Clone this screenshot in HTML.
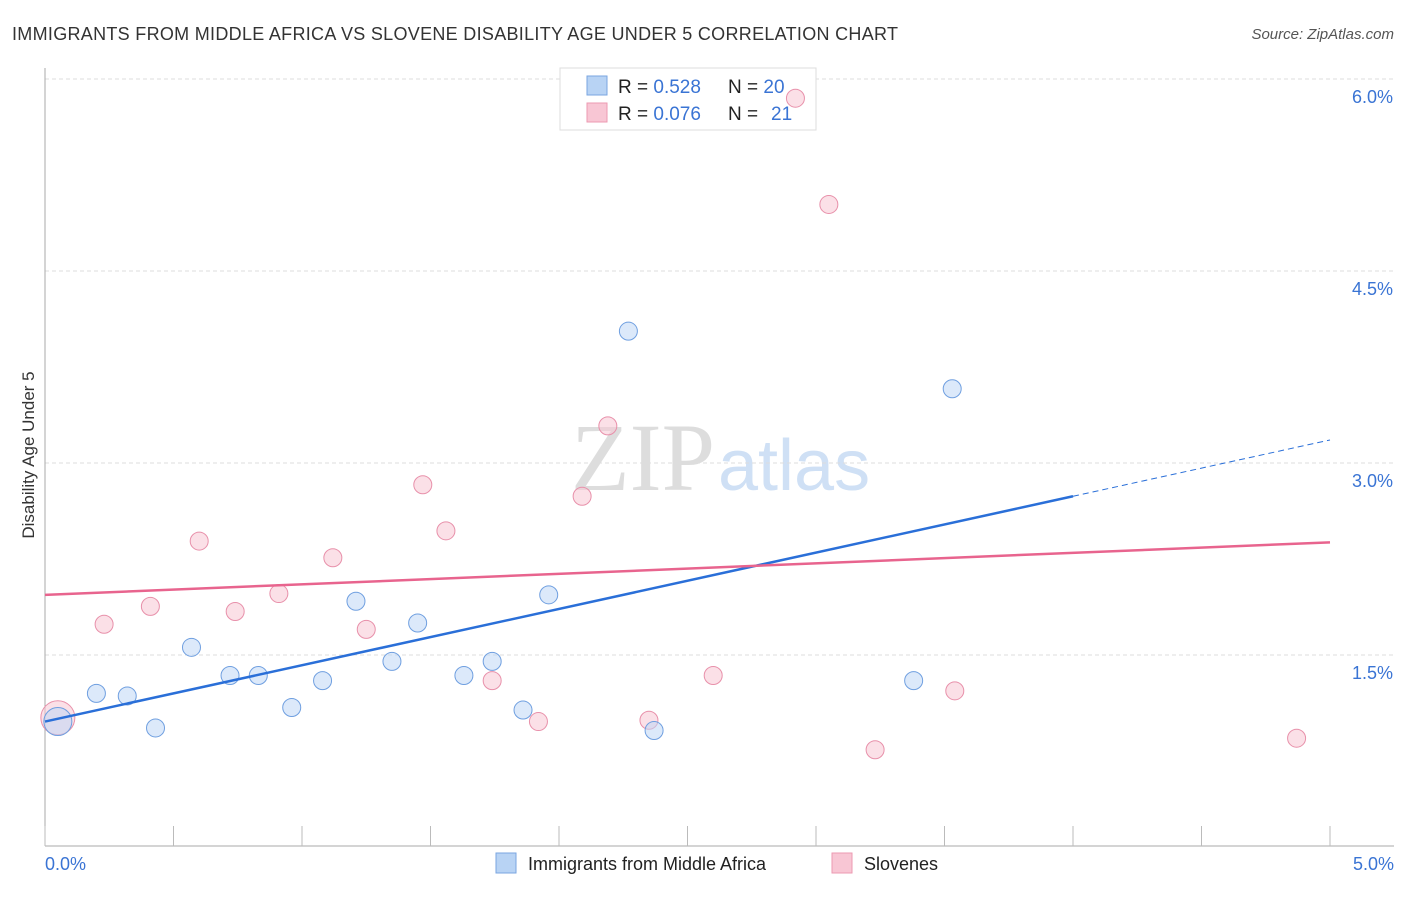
<!DOCTYPE html>
<html><head><meta charset="utf-8"><style>
body{margin:0;background:#fff;font-family:"Liberation Sans",sans-serif}
</style></head><body>
<svg width="1406" height="892" xmlns="http://www.w3.org/2000/svg">
<text x="12" y="40" font-size="18" fill="#333" textLength="886">IMMIGRANTS FROM MIDDLE AFRICA VS SLOVENE DISABILITY AGE UNDER 5 CORRELATION CHART</text>
<text x="1394" y="39" font-size="15" fill="#555" text-anchor="end" font-style="italic">Source: ZipAtlas.com</text>
<text x="715" y="490" font-size="96" fill="#ddd" text-anchor="end" font-family="Liberation Serif,serif">ZIP</text>
<text x="718" y="490" font-size="72" fill="#cfe0f5">atlas</text>
<g id="grid"></g>
<g id="axes"></g>
<g>
<rect x="560" y="68" width="256" height="62" fill="#fff" stroke="#ddd"/>
<rect x="587" y="76" width="20" height="19" fill="#b8d3f4" stroke="#7aa6e0"/>
<rect x="587" y="103" width="20" height="19" fill="#f8c6d4" stroke="#ec9ab2"/>
<text x="618" y="93" font-size="19" fill="#222">R = <tspan fill="#3a74d4">0.528</tspan><tspan x="728">N = </tspan><tspan fill="#3a74d4">20</tspan></text>
<text x="618" y="120" font-size="19" fill="#222">R = <tspan fill="#3a74d4">0.076</tspan><tspan x="728">N = </tspan><tspan x="771" fill="#3a74d4">21</tspan></text>
</g>
<g id="marks"></g>
<text transform="translate(34,455) rotate(-90)" font-size="17" fill="#333" text-anchor="middle">Disability Age Under 5</text>
<text x="45" y="870" font-size="18" fill="#3a74d4">0.0%</text>
<text x="1394" y="870" font-size="18" fill="#3a74d4" text-anchor="end">5.0%</text>
<g>
<rect x="496" y="853" width="20" height="20" fill="#b8d3f4" stroke="#7aa6e0"/>
<text x="528" y="870" font-size="18" fill="#222">Immigrants from Middle Africa</text>
<rect x="832" y="853" width="20" height="20" fill="#f8c6d4" stroke="#ec9ab2"/>
<text x="864" y="870" font-size="18" fill="#222">Slovenes</text>
</g>
</svg>
<script>
const yTicks=[1.5,3.0,4.5,6.0];
const yTickLabels=["1.5%","3.0%","4.5%","6.0%"];
const xTicks=[0,0.5,1,1.5,2,2.5,3,3.5,4,4.5,5];
const blueX=[0.05,0.20,0.32,0.43,0.57,0.72,0.83,0.96,1.08,1.21,1.35,1.45,1.63,1.74,1.86,1.96,2.27,2.37,3.38,3.53];
const blueY=[0.98,1.20,1.18,0.93,1.56,1.34,1.34,1.09,1.30,1.92,1.45,1.75,1.34,1.45,1.07,1.97,4.03,0.91,1.30,3.58];
const pinkX=[0.05,0.23,0.41,0.60,0.74,0.91,1.12,1.25,1.47,1.56,1.74,1.92,2.09,2.19,2.35,2.60,2.92,3.05,3.23,3.54,4.87];
const pinkY=[1.01,1.74,1.88,2.39,1.84,1.98,2.26,1.70,2.83,2.47,1.30,0.98,2.74,3.29,0.99,1.34,5.85,5.02,0.76,1.22,0.85];
const blueTrend=[[0,0.98],[4.0,2.74],[5.0,3.18]];
const pinkTrend=[[0,1.97],[5.0,2.38]];
const NS="http://www.w3.org/2000/svg";
const X=v=>45+v*257, Y=v=>847-v*128;
function mk(t,a,p){const e=document.createElementNS(NS,t);for(const k in a)e.setAttribute(k,a[k]);document.getElementById(p).appendChild(e);return e;}
yTicks.forEach((v,i)=>{
 const l=mk('line',{x1:45,x2:1394,y1:Y(v),y2:Y(v),stroke:'#ddd','stroke-dasharray':'4,3'},'grid');
 
 
 const t=mk('text',{x:1393,y:Y(v)+24,'font-size':18,fill:'#3a74d4','text-anchor':'end'},'grid');t.textContent=yTickLabels[i];
 
 
});
let a=mk('line',{x1:45,x2:45,y1:68,y2:846,stroke:'#aaa'},'axes');


a=mk('line',{x1:45,x2:1394,y1:846,y2:846,stroke:'#aaa'},'axes');


xTicks.forEach(v=>{const t=mk('line',{x1:X(v),x2:X(v),y1:826,y2:846,stroke:'#bbb'},'axes');
 
 });
function dots(xs,ys,fill,stroke,name){xs.forEach((x,i)=>{const r=i===0?(name==='blue-point'?14:17):9;
 const c=mk('circle',{cx:X(x),cy:Y(ys[i]),r:r,fill:fill,stroke:stroke,'fill-opacity':0.55},'marks');
 
 });}
dots(pinkX,pinkY,'#f8c6d4','#e890aa','pink-point');
dots(blueX,blueY,'#c0d7f5','#6f9fe0','blue-point');
let l=mk('line',{x1:X(blueTrend[0][0]),y1:Y(blueTrend[0][1]),x2:X(blueTrend[1][0]),y2:Y(blueTrend[1][1]),stroke:'#2a6fd8','stroke-width':2.5},'marks');


l=mk('line',{x1:X(blueTrend[1][0]),y1:Y(blueTrend[1][1]),x2:X(blueTrend[2][0]),y2:Y(blueTrend[2][1]),stroke:'#2a6fd8','stroke-width':1,'stroke-dasharray':'6,4'},'marks');


l=mk('line',{x1:X(pinkTrend[0][0]),y1:Y(pinkTrend[0][1]),x2:X(pinkTrend[1][0]),y2:Y(pinkTrend[1][1]),stroke:'#e8648e','stroke-width':2.5},'marks');


</script>
</body></html>
